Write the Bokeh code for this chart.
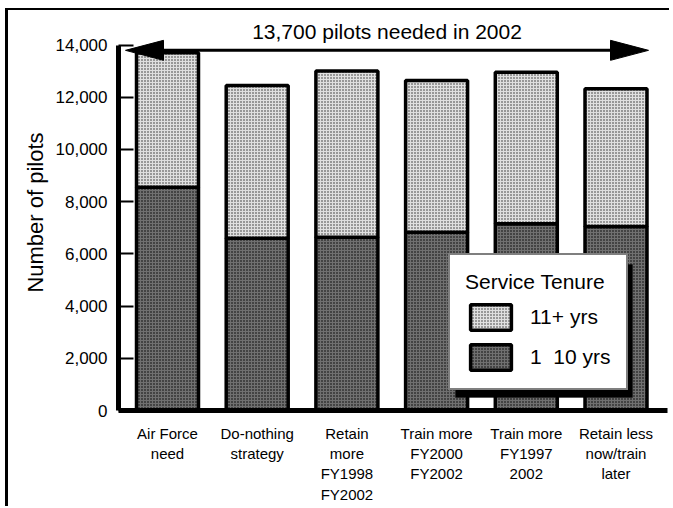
from bokeh.plotting import figure
from bokeh.layouts import column
from bokeh.models import (ColumnDataSource, FixedTicker, Legend, LegendItem,
                          Label, Range1d, BoxAnnotation)
from bokeh.embed import file_html
from bokeh.resources import INLINE

# ---------------- data ----------------
categories = ["Air Force\nneed", "Do-nothing\nstrategy",
              "Retain\nmore\nFY1998\nFY2002", "Train more\nFY2000\nFY2002",
              "Train more\nFY1997\n2002", "Retain less\nnow/train\nlater"]
tenure_1_10 = [8550, 6600, 6640, 6830, 7150, 7050]
tenure_11_plus = [5150, 5850, 6360, 5810, 5810, 5270]
need_2002 = 13700
y_ticks = [0, 2000, 4000, 6000, 8000, 10000, 12000, 14000]
y_tick_labels = ["0", "2,000", "4,000", "6,000", "8,000", "10,000", "12,000", "14,000"]
series_names = ["11+ yrs", "1  10 yrs"]
title_text = "13,700 pilots needed in 2002"
legend_title = "Service Tenure"

FONT = "Liberation Sans"

xs = list(range(len(categories)))
totals = [a + b for a, b in zip(tenure_1_10, tenure_11_plus)]
src = ColumnDataSource(dict(x=xs, low=tenure_1_10, top=totals,
                            zero=[0] * len(xs)))

# ---------------- layout constants ----------------
# canvas is offset by (8, 10) inside a framed wrapper
W, H = 661, 496
LEFT, RIGHT, TOP, BOTTOM = 110, 2, 4, 96
PX_X = 89.7                  # px per category step
PX_Y = 365.5 / 14000.0       # px per pilot
frame_w = W - LEFT - RIGHT
frame_h = H - TOP - BOTTOM
x_start = -49 / PX_X
x_end = x_start + frame_w / PX_X
y_end = frame_h / PX_Y

p = figure(width=W, height=H, x_range=Range1d(x_start, x_end),
           y_range=Range1d(0, y_end), output_backend="svg",
           toolbar_location=None, min_border_left=LEFT, min_border_right=RIGHT,
           min_border_top=TOP, min_border_bottom=BOTTOM)
p.outline_line_color = None
p.grid.visible = False
p.background_fill_color = "white"
p.border_fill_color = "white"

LIGHT = dict(fill_color="#e0e0e0", hatch_pattern="dot", hatch_scale=3,
             hatch_weight=1.2, hatch_color="black", hatch_alpha=0.8)
DARK = dict(fill_color="#707070", hatch_pattern="dot", hatch_scale=3,
            hatch_weight=1.8, hatch_color="black", hatch_alpha=1.0)

bw = 62 / PX_X
r_dark = p.vbar(x="x", width=bw, bottom="zero", top="low", source=src,
                line_color="black", line_width=3.5, **DARK)
r_light = p.vbar(x="x", width=bw, bottom="low", top="top", source=src,
                 line_color="black", line_width=3.5, **LIGHT)

# ---------------- arrow ----------------
xl = (125 - 167) / PX_X
xr = (648 - 167) / PX_X
ay = need_2002 + 2.5 / PX_Y
head_len = 38 / PX_X
head_half = 10 / PX_Y
p.segment(x0=[xl + head_len * 0.5], y0=[ay], x1=[xr - head_len * 0.5],
          y1=[ay], line_color="black", line_width=3)
p.patches(xs=[[xl, xl + head_len, xl + head_len],
              [xr, xr - head_len, xr - head_len]],
          ys=[[ay, ay + head_half, ay - head_half],
              [ay, ay + head_half, ay - head_half]],
          fill_color="black", line_color="black", line_width=1)

p.add_layout(Label(x=(xl + xr) / 2, y=ay, y_offset=19, text=title_text,
                   text_align="center", text_baseline="alphabetic",
                   text_font=FONT, text_font_size="21px",
                   text_color="black"))

# ---------------- axes ----------------
ya = p.yaxis[0]
ya.bounds = (0, 14000)
ya.ticker = FixedTicker(ticks=y_ticks)
ya.major_label_overrides = {t: l for t, l in zip(y_ticks, y_tick_labels)}
ya.major_tick_in = 15
ya.major_tick_out = 0
ya.major_tick_line_width = 2
ya.minor_tick_line_color = None
ya.axis_line_width = 5
ya.major_label_text_font = FONT
ya.major_label_text_font_size = "17px"
ya.major_label_text_color = "black"
ya.major_label_standoff = 11
ya.axis_label = "Number of pilots"
ya.axis_label_text_font = FONT
ya.axis_label_text_font_size = "22px"
ya.axis_label_text_font_style = "normal"
ya.axis_label_text_color = "black"
ya.axis_label_standoff = 5

xa = p.xaxis[0]
xa.ticker = FixedTicker(ticks=xs)
xa.major_label_overrides = {i: c for i, c in zip(xs, categories)}
xa.major_tick_line_color = None
xa.minor_tick_line_color = None
xa.axis_line_width = 5
xa.major_label_text_font = FONT
xa.major_label_text_font_size = "15px"
xa.major_label_text_color = "black"
xa.major_label_standoff = 8

# ---------------- legend with drop shadow ----------------
LEG_X, LEG_Y = 330, 20          # px from frame left / bottom
LEG_W, LEG_H = 177, 133
SH = 7
p.add_layout(BoxAnnotation(left=x_start + (LEG_X + SH) / PX_X,
                           right=x_start + (LEG_X + SH + LEG_W) / PX_X,
                           bottom=(LEG_Y - SH) / PX_Y,
                           top=(LEG_Y - SH + LEG_H) / PX_Y,
                           fill_color="black", fill_alpha=1.0,
                           line_color="black", level="guide"))

legend = Legend(items=[LegendItem(label=series_names[0], renderers=[r_light]),
                       LegendItem(label=series_names[1], renderers=[r_dark])],
                location=(LEG_X, LEG_Y), title=legend_title,
                title_text_font=FONT, title_text_font_size="21px",
                title_text_font_style="normal", title_text_color="black",
                label_text_font=FONT, label_text_font_size="21px",
                label_text_color="black",
                glyph_width=51, glyph_height=32, label_standoff=14,
                spacing=8, padding=15, margin=0, title_standoff=7,
                border_line_color="black", border_line_width=2,
                background_fill_color="white", background_fill_alpha=1.0)
p.add_layout(legend)

root = column(p, styles={"margin-left": "5px", "margin-top": "8px",
                         "border-left": "3px solid black",
                         "border-top": "2px solid black"})

open("out.html", "w").write(file_html(root, INLINE))
